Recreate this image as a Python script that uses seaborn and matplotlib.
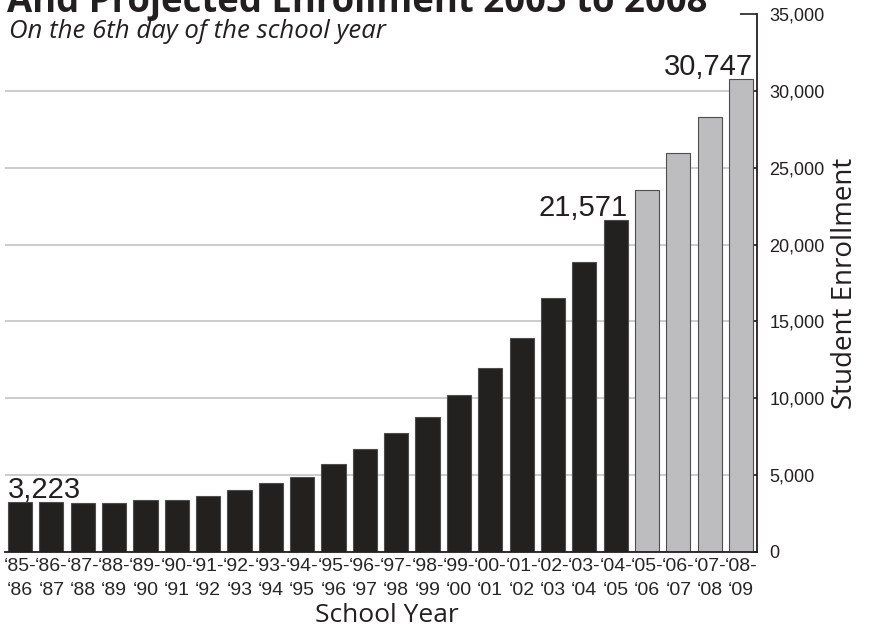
import matplotlib
matplotlib.use('Agg')
import matplotlib.pyplot as plt
import seaborn as sns
import pandas as pd

## Data
school_years = ['‘85-\n‘86', '‘86-\n‘87', '‘87-\n‘88', '‘88-\n‘89', '‘89-\n‘90', '‘90-\n‘91',
                '‘91-\n‘92', '‘92-\n‘93', '‘93-\n‘94', '‘94-\n‘95', '‘95-\n‘96', '‘96-\n‘97',
                '‘97-\n‘98', '‘98-\n‘99', '‘99-\n‘00', '‘00-\n‘01', '‘01-\n‘02', '‘02-\n‘03',
                '‘03-\n‘04', '‘04-\n‘05', '‘05-\n‘06', '‘06-\n‘07', '‘07-\n‘08', '‘08-\n‘09']
enrollment = [3223, 3260, 3200, 3220, 3380, 3380, 3620, 4030, 4470, 4900, 5720, 6680,
              7740, 8800, 10200, 12000, 13930, 16500, 18840, 21571, 23540, 25940, 28300, 30747]
status = ['Actual'] * 20 + ['Projected'] * 4
labeled_bars = [0, 19, 23]
y_ticks = [0, 5000, 10000, 15000, 20000, 25000, 30000, 35000]

df = pd.DataFrame({'Year': school_years, 'Enrollment': enrollment, 'Status': status})

sns.set_style('white')
plt.rcParams['font.family'] = ['Liberation Sans Narrow', 'Liberation Sans', 'DejaVu Sans']

fig = plt.figure(figsize=(8.69, 6.28), dpi=100)
ax = fig.add_axes([5 / 869, 1 - 552 / 628, 752 / 869, 538 / 628])

sns.barplot(data=df, x='Year', y='Enrollment', hue='Status',
            palette={'Actual': '#231f20', 'Projected': '#bcbdc0'},
            width=0.77, dodge=False, edgecolor='#4d4d4d', linewidth=0.8,
            legend=False, ax=ax, zorder=2)

# grade e eixos
ax.set_axisbelow(True)
ax.yaxis.grid(True, color='#c2c3c6', linewidth=1.2)
ax.set_xlim(-0.48, 23.51)
ax.set_ylim(0, 35000)
ax.set_yticks(y_ticks)
ax.set_yticklabels([f'{v:,}' for v in y_ticks])
ax.yaxis.tick_right()
ax.tick_params(axis='y', direction='in', length=4, width=1.2, pad=9, labelsize=13, colors='#231f20')
ax.tick_params(axis='x', length=0, pad=4, labelsize=14)
for lab in ax.get_xticklabels():
    lab.set_linespacing(1.55)
top_tick = ax.yaxis.get_major_ticks()[-1]
top_tick.tick2line.set_markersize(12)
top_tick.gridline.set_visible(False)

for side in ['left', 'top']:
    ax.spines[side].set_visible(False)
for side in ['right', 'bottom']:
    ax.spines[side].set_color('#231f20')
    ax.spines[side].set_linewidth(1.3)

ax.set_xlabel('School Year', fontsize=19, family='Open Sans', color='#231f20')
ax.xaxis.set_label_coords(0.508, -0.095)
ax.set_ylabel('Student Enrollment', fontsize=20, family='Open Sans', color='#231f20')
ax.yaxis.set_label_position('right')
ax.yaxis.set_label_coords(1.098, 0.5)

# rótulos de valor
for i in labeled_bars:
    v = enrollment[i]
    if i == 0:
        ax.annotate(f'{v:,}', (i - 0.385, v), xytext=(0, 3), textcoords='offset points',
                    ha='left', va='baseline', fontsize=21, family='Liberation Sans', color='#231f20')
    else:
        ax.annotate(f'{v:,}', (i + 0.385, v), xytext=(0, 3), textcoords='offset points',
                    ha='right', va='baseline', fontsize=21, family='Liberation Sans', color='#231f20')

# título (cortado no topo, como no original) e subtítulo
fig.text(7 / 869, 1 - 12 / 628, 'And Projected Enrollment 2005 to 2008', fontsize=26.3,
         fontweight='bold', family='Open Sans', ha='left', va='baseline', color='#231f20')
fig.text(9 / 869, 1 - 38 / 628, 'On the 6th day of the school year', fontsize=18.5,
         style='italic', family='Open Sans', ha='left', va='baseline', color='#231f20')

fig.savefig('out.png', dpi=100)
